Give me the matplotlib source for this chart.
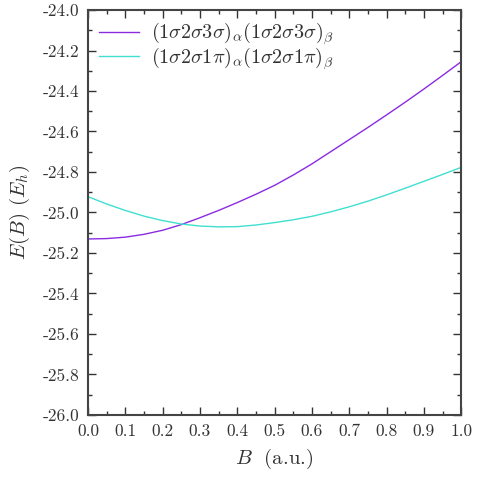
import matplotlib
matplotlib.use("Agg")
import matplotlib.pyplot as plt
import numpy as np

plt.rcParams["font.family"] = "serif"
plt.rcParams["font.serif"] = ["cmr10", "DejaVu Serif"]
plt.rcParams["mathtext.fontset"] = "cm"
plt.rcParams["axes.unicode_minus"] = False

# field strength (a.u.) and energies (E_h)
B = [0.0, 0.05, 0.1, 0.15, 0.2, 0.25, 0.3, 0.35, 0.4, 0.45, 0.5,
     0.55, 0.6, 0.65, 0.7, 0.75, 0.8, 0.85, 0.9, 0.95, 1.0]
E_sigma = [-25.131, -25.129, -25.122, -25.108, -25.088, -25.060, -25.026,
           -24.990, -24.951, -24.910, -24.866, -24.815, -24.760, -24.700,
           -24.640, -24.580, -24.518, -24.455, -24.390, -24.323, -24.255]
E_pi = [-24.922, -24.958, -24.990, -25.018, -25.040, -25.057, -25.067,
        -25.071, -25.070, -25.062, -25.050, -25.036, -25.019, -24.997,
        -24.972, -24.944, -24.913, -24.880, -24.846, -24.812, -24.777]
labels = [r"$(1\sigma2\sigma3\sigma)_\alpha(1\sigma2\sigma3\sigma)_\beta$",
          r"$(1\sigma2\sigma1\pi)_\alpha(1\sigma2\sigma1\pi)_\beta$"]

xticks = np.round(np.arange(0, 1.01, 0.1), 1)
yticks = np.round(np.arange(-26.0, -23.99, 0.2), 1)

fig = plt.figure(figsize=(4.78, 4.78), dpi=100)
ax = fig.add_axes([0.184, 0.132, 0.781, 0.847])

ax.plot(B, E_sigma, color="#8a2be2", lw=1.0, label=labels[0])
ax.plot(B, E_pi, color="#40e0d0", lw=1.0, label=labels[1])

ax.set_xlim(0, 1)
ax.set_ylim(-26, -24)
ax.set_xticks(xticks)
ax.set_xticklabels(["%.1f" % v for v in xticks])
ax.set_yticks(yticks)
ax.set_yticklabels(["%.1f" % v for v in yticks])
ax.set_xticks(np.arange(0.05, 1.0, 0.1), minor=True)
ax.set_yticks(np.arange(-25.9, -24.0, 0.2), minor=True)
ax.tick_params(which="both", direction="in", top=True, right=True,
               labelsize=12.5, colors="#333333", width=1.0)
ax.tick_params(which="major", length=6, pad=6)
ax.tick_params(which="minor", length=3)
for s in ax.spines.values():
    s.set_color("#444444")
    s.set_linewidth(1.5)

ax.set_xlabel(r"$B\ $ (a.u.)", fontsize=15, color="#333333", labelpad=6)
ax.set_ylabel(r"$E(B)$ ($E_h$)", fontsize=15, color="#333333", labelpad=8)

ax.legend(loc="upper left", frameon=False, fontsize=14.5, handlelength=2.0,
          borderaxespad=0.15, handletextpad=0.6, labelspacing=-0.08,
          labelcolor="#333333")

fig.savefig("out.png", dpi=100)
